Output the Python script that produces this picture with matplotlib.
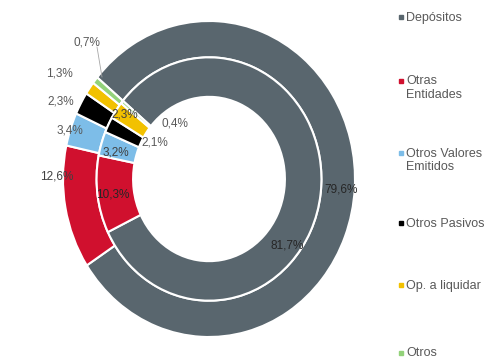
import matplotlib
matplotlib.use("Agg")
import matplotlib.pyplot as plt
import numpy as np

plt.rcParams['font.family'] = ['Liberation Sans', 'DejaVu Sans']

# categories and shares (%) for the two rings
categorias = ['Depósitos', 'Otras\nEntidades', 'Otros Valores\nEmitidos',
              'Otros Pasivos', 'Op. a liquidar', 'Otros']
exterior = [79.6, 12.6, 3.4, 2.3, 1.3, 0.7]
interior = [81.7, 10.3, 3.2, 2.1, 2.3, 0.4]

colores = ['#59666e', '#d0102e', '#7dbde8', '#000000', '#f2c100', '#93d27a']

fig = plt.figure(figsize=(4.92, 3.64), dpi=100)
ax = fig.add_axes([0, 0, 1, 1])

ax.pie(exterior, radius=1.0, startangle=140, counterclock=False, colors=colores,
       wedgeprops=dict(width=0.23, edgecolor='white', linewidth=1.5))
ax.pie(interior, radius=0.77, startangle=140, counterclock=False, colors=colores,
       wedgeprops=dict(width=0.25, edgecolor='white', linewidth=1.5))

# the chart area is a bit squeezed sideways, so keep aspect free
ax.set_aspect('auto')
ax.set_xlim(-209 / 146, (492 - 209) / 146)
ax.set_ylim((179 - 364) / 158, 179 / 158)
ax.axis('off')


def fmt(v):
    return ('%.1f%%' % v).replace('.', ',')


# label placement as (angle, radius)
pos_ext = [(-4.4, 0.905), (179.3, 1.04), (162, 1.0), (154.3, 1.125), (146.9, 1.227), (134, 1.204)]
pos_int = [(-38, 0.68), (188.6, 0.67), (165.5, 0.66), (148.4, 0.435), (144.8, 0.703), (123.8, 0.419)]
col_ext = ['#262626', '#404040', '#595959', '#595959', '#595959', '#595959']
col_int = ['#262626', '#262626', '#404040', '#595959', '#404040', '#595959']

for v, (a, r), c in zip(exterior, pos_ext, col_ext):
    t = np.radians(a)
    ax.text(r * np.cos(t), r * np.sin(t), fmt(v), ha='center', va='center',
            fontsize=8.5, color=c)
for v, (a, r), c in zip(interior, pos_int, col_int):
    t = np.radians(a)
    ax.text(r * np.cos(t), r * np.sin(t), fmt(v), ha='center', va='center',
            fontsize=8.5, color=c)

# leader line for the smallest outer slice
ax.plot([-0.767, -0.733], [0.835, 0.646], color='#a6a6a6', lw=0.6)

# legend on the right, marker next to the first line of each entry
ley_y = [17, 81, 153, 223, 285, 353]
for nombre, col, y in zip(categorias, colores, ley_y):
    yf = 1 - y / 364
    fig.add_artist(plt.Line2D([401 / 492], [yf], marker='s', markersize=2.6,
                              color=col, linestyle='none', transform=fig.transFigure))
    fig.text(406 / 492, yf + 5.5 / 364, nombre, ha='left', va='top', fontsize=9,
             color='#595959', linespacing=1.15)

fig.savefig('out.png', dpi=100)
